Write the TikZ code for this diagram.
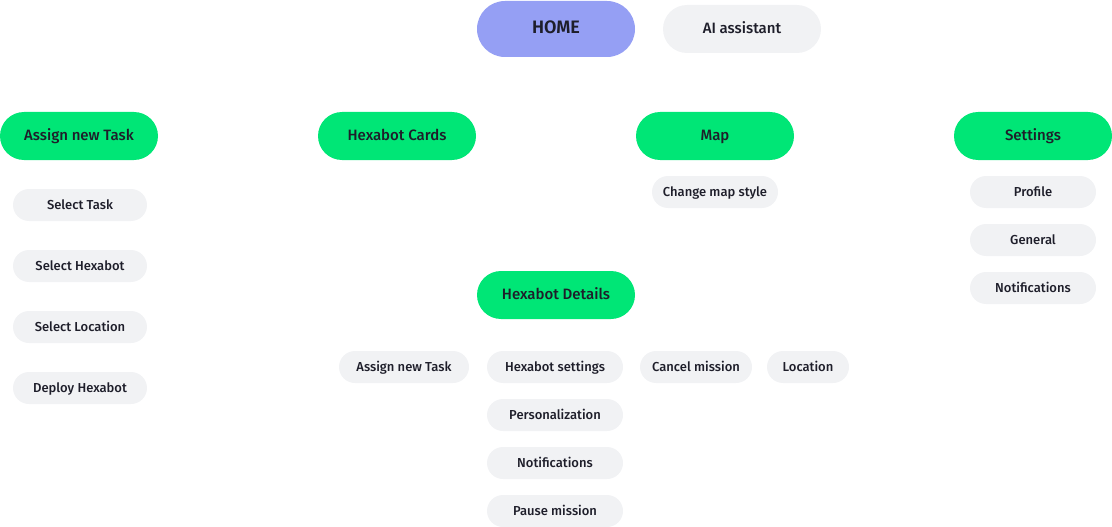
\documentclass[tikz,border=0pt]{standalone}
\usepackage{fontspec}
\setmainfont{Fira Sans Medium}[BoldFont={Fira Sans SemiBold}]
\usepackage{tikz}
\definecolor{homeblue}{HTML}{959FF4}
\definecolor{pillgreen}{HTML}{00E676}
\definecolor{pillgray}{HTML}{F1F2F4}
\definecolor{textdark}{HTML}{1E1E2A}
\tikzset{
	pill/.style={shape=rectangle,rounded corners=16pt,inner sep=0pt,text=textdark,text height=0.95em,text depth=0pt},
	main/.style={pill,fill=pillgreen,minimum width=158pt,minimum height=48pt,rounded corners=24pt,font=\fontsize{15}{18}\selectfont},
	sub/.style={pill,fill=pillgray,minimum height=32pt,font=\fontsize{13}{16}\selectfont},
}
\begin{document}
\begin{tikzpicture}[x=1pt,y=-1pt]
	
	\useasboundingbox (0,0) rectangle (1112,527);
	
	\node[main,fill=homeblue,minimum height=56pt,rounded corners=28pt,font=\fontsize{18}{20}\selectfont\bfseries] (home) at (556,29) {HOME};
	\node[main,fill=pillgray] (ai) at (742,29) {AI assistant};
	
	\node[main] (task) at (79,136)     {Assign new Task};
	\node[main] (cards) at (397,136)   {Hexabot Cards};
	\node[main] (map) at (715,136)     {Map};
	\node[main] (settings) at (1033,136) {Settings};
	\node[main] (details) at (556,295) {Hexabot Details};
	
	\node[sub,minimum width=134pt] (seltask) at (80,205)  {Select Task};
	\node[sub,minimum width=134pt] (selhex) at (80,266)   {Select Hexabot};
	\node[sub,minimum width=134pt] (selloc) at (80,327)   {Select Location};
	\node[sub,minimum width=134pt] (deploy) at (80,388)   {Deploy Hexabot};
	
	\node[sub,minimum width=126pt] (mapstyle) at (715,192) {Change map style};
	
	\node[sub,minimum width=126pt] (profile) at (1033,192) {Profile};
	\node[sub,minimum width=126pt] (general) at (1033,240) {General};
	\node[sub,minimum width=126pt] (notif) at (1033,288)   {Notifications};
	
	\node[sub,minimum width=130pt] (dtask) at (404,367)     {Assign new Task};
	\node[sub,minimum width=136pt] (dsettings) at (555,367) {Hexabot settings};
	\node[sub,minimum width=112pt] (dcancel) at (696,367)   {Cancel mission};
	\node[sub,minimum width=82pt] (dloc) at (808,367)       {Location};
	\node[sub,minimum width=136pt] (dpers) at (555,415)     {Personalization};
	\node[sub,minimum width=136pt] (dnotif) at (555,463)    {Notifications};
	\node[sub,minimum width=136pt] (dpause) at (555,511)    {Pause mission};

\end{tikzpicture}
\end{document}
